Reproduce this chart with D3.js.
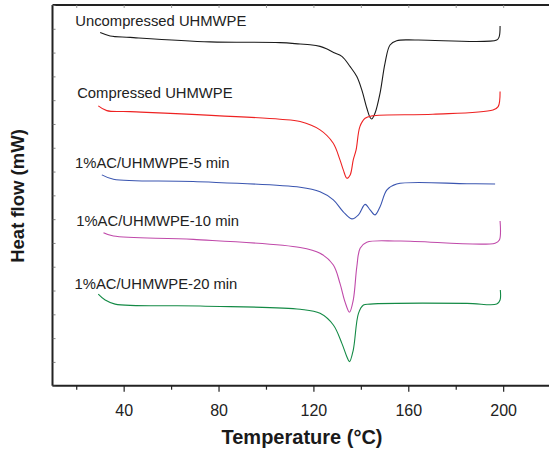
<!DOCTYPE html>
<html>
<head>
<meta charset="utf-8">
<script src="https://cdn.jsdelivr.net/npm/d3@7"></script>
<style>
  body { margin: 0; background: #fff; }
  svg { display: block; }
  text { font-family: "Liberation Sans", Arial, Helvetica, sans-serif; }
</style>
</head>
<body>
<svg id="chart" width="549" height="449"></svg>
<script>
// ---- data (temperature °C, heat flow in arbitrary units, curves offset) ----
const seriesNames = ["Uncompressed UHMWPE", "Compressed UHMWPE", "1%AC/UHMWPE-5 min", "1%AC/UHMWPE-10 min", "1%AC/UHMWPE-20 min"];
const seriesColors = ["#1a1a1a", "#ee2222", "#3a55b0", "#c04aaa", "#138a45"];

const uncompressedT = [30.1, 34.3, 42.7, 76.4, 105.9, 114.4, 118.6, 122.8, 125.5, 128.5, 132.0, 135.5, 138.3, 140.4, 142.5, 143.9, 144.6, 146.0, 148.1, 150.2, 152.3, 155.1, 163.6, 197.3, 198.3, 198.7];
const uncompressedY = [14.84, 14.70, 14.64, 14.45, 14.42, 14.36, 14.33, 14.26, 14.16, 14.00, 13.84, 13.41, 12.99, 12.43, 11.67, 11.27, 11.21, 11.46, 12.30, 13.56, 14.32, 14.50, 14.53, 14.53, 14.66, 15.12];

const compressedT = [29.3, 32.9, 42.7, 105.9, 114.4, 122.8, 128.3, 131.2, 132.6, 134.1, 135.5, 136.8, 138.0, 139.6, 141.8, 144.6, 170.4, 195.7, 197.9, 198.7];
const compressedY = [11.76, 11.56, 11.52, 11.20, 11.10, 10.75, 10.20, 9.49, 9.07, 8.72, 8.86, 9.49, 9.91, 10.89, 11.24, 11.34, 11.41, 11.59, 11.73, 12.36];

const ac5T = [30.8, 35.7, 69.3, 114.4, 122.8, 128.4, 132.6, 136.2, 139.0, 141.8, 143.9, 146.0, 148.1, 151.0, 155.1, 184.7, 196.6];
const ac5Y = [8.86, 8.68, 8.58, 8.34, 8.15, 7.81, 7.31, 7.01, 7.18, 7.62, 7.39, 7.18, 7.52, 8.23, 8.48, 8.49, 8.48];

const ac10T = [31.5, 35.7, 69.4, 114.4, 122.8, 128.4, 131.2, 133.3, 135.2, 136.8, 138.3, 139.7, 142.5, 156.5, 196.6, 198.4, 198.7];
const ac10Y = [6.43, 6.29, 6.15, 5.81, 5.57, 5.07, 4.30, 3.53, 3.09, 3.60, 5.00, 5.78, 6.03, 6.08, 5.99, 6.12, 6.92];

const ac20T = [29.3, 32.2, 36.4, 72.2, 114.4, 122.8, 128.4, 132.0, 134.1, 135.2, 136.8, 139.0, 141.1, 143.9, 184.7, 197.3, 198.7, 198.8];
const ac20Y = [3.85, 3.60, 3.43, 3.35, 3.21, 3.04, 2.55, 1.78, 1.22, 1.01, 1.50, 3.04, 3.39, 3.43, 3.46, 3.43, 3.60, 4.02];

const seriesT = [uncompressedT, compressedT, ac5T, ac10T, ac20T];
const seriesY = [uncompressedY, compressedY, ac5Y, ac10Y, ac20Y];

// label anchor positions (temperature, heat-flow units)
const labelT = [19.6, 20.4, 19.5, 20.0, 19.3];
const labelY = [15.12, 12.09, 9.15, 6.72, 4.05];

const xMajorTicks = [40, 80, 120, 160, 200];
const xMinorTicks = [20, 60, 100, 140, 180, 220];
const xDomain = [10, 220];
const yDomain = [0, 16];

// ---- layout ----
const svg = d3.select("#chart");
const mLeft = 52.5, mRight = 550.6, mTop = 5, mBottom = 385.7;

const x = d3.scaleLinear().domain(xDomain).range([mLeft, mRight]);
const y = d3.scaleLinear().domain(yDomain).range([mBottom, mTop]);

const axisColor = "#222";
svg.append("line").attr("x1", mLeft).attr("x2", mRight).attr("y1", mBottom).attr("y2", mBottom)
  .attr("stroke", axisColor).attr("stroke-width", 2);
svg.append("line").attr("x1", mLeft).attr("x2", mLeft).attr("y1", mTop).attr("y2", mBottom)
  .attr("stroke", axisColor).attr("stroke-width", 2);
svg.append("line").attr("x1", mLeft).attr("x2", mRight).attr("y1", mTop).attr("y2", mTop)
  .attr("stroke", axisColor).attr("stroke-width", 2);

const xAxis = d3.axisBottom(x).tickValues(xMajorTicks).tickSize(6).tickPadding(13).tickFormat(d3.format("d"));
const gx = svg.append("g").attr("transform", `translate(0,${mBottom})`).call(xAxis);
gx.select(".domain").remove();
gx.selectAll(".tick line").attr("stroke", axisColor).attr("stroke-width", 1.2);
gx.selectAll(".tick text").attr("fill", "#222").style("font-size", "16px").style("font-family", "Liberation Sans, Arial, sans-serif");

const xAxisMinor = d3.axisBottom(x).tickValues(xMinorTicks).tickSize(4).tickFormat("");
const gxm = svg.append("g").attr("transform", `translate(0,${mBottom})`).call(xAxisMinor);
gxm.select(".domain").remove();
gxm.selectAll(".tick line").attr("stroke", axisColor).attr("stroke-width", 1.2);

const topAxis = d3.axisBottom(x).tickValues(xMajorTicks.concat(xMinorTicks)).tickSize(3).tickFormat("");
const gt = svg.append("g").attr("transform", `translate(0,${mTop})`).call(topAxis);
gt.select(".domain").remove();
gt.selectAll(".tick line").attr("stroke", "#888").attr("stroke-width", 0.8);

const yAxis = d3.axisRight(y).ticks(16).tickSize(3).tickFormat("");
const gy = svg.append("g").attr("transform", `translate(${mLeft},0)`).call(yAxis);
gy.select(".domain").remove();
gy.selectAll(".tick line").attr("stroke", "#666").attr("stroke-width", 0.8);

const line = d3.line().x(d => x(d[0])).y(d => y(d[1])).curve(d3.curveCatmullRom.alpha(0.5));
seriesNames.forEach((name, i) => {
  const pts = seriesT[i].map((t, j) => [t, seriesY[i][j]]);
  svg.append("path").datum(pts).attr("d", line)
    .attr("fill", "none").attr("stroke", seriesColors[i]).attr("stroke-width", 1.1);
  svg.append("text").attr("x", x(labelT[i])).attr("y", y(labelY[i]))
    .attr("fill", "#222").style("font-size", "14.8px").text(name);
});

svg.append("text").attr("x", 302).attr("y", 444).attr("text-anchor", "middle")
  .attr("fill", "#1a1a1a").style("font-size", "20px").style("font-weight", "bold")
  .text("Temperature (°C)");
svg.append("text").attr("transform", "translate(24,196) rotate(-90)").attr("text-anchor", "middle")
  .attr("fill", "#1a1a1a").style("font-size", "18.5px").style("font-weight", "bold")
  .text("Heat flow (mW)");
</script>
</body>
</html>
